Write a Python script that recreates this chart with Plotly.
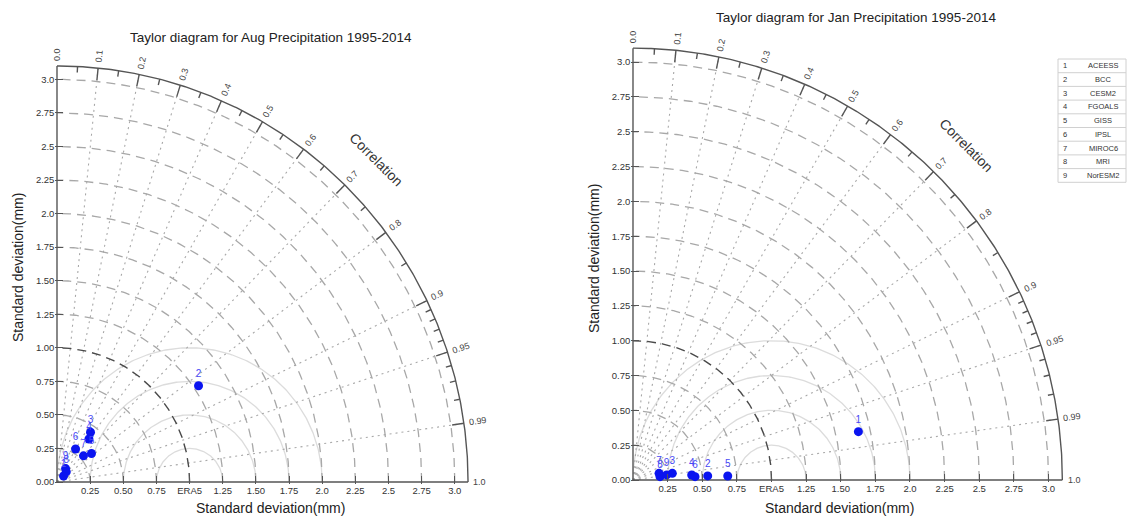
import numpy as np
import plotly.graph_objects as go

# ---------------- data ----------------
model_ids = ["1", "2", "3", "4", "5", "6", "7", "8", "9"]
model_names = ["ACEESS", "BCC", "CESM2", "FGOALS", "GISS", "IPSL", "MIROC6", "MRI", "NorESM2"]

aug_std = [0.067, 1.286, 0.449, 0.401, 0.336, 0.283, 0.279, 0.103, 0.119]
aug_corr = [0.74, 0.830, 0.563, 0.601, 0.774, 0.495, 0.716, 0.68, 0.545]

jan_std = [1.664, 0.540, 0.288, 0.4255, 0.6846, 0.4486, 0.194, 0.1965, 0.2457]
jan_corr = [0.978, 0.9985, 0.986, 0.9964, 0.9991, 0.9986, 0.969, 0.9925, 0.989]

titles = ["Taylor diagram for Aug Precipitation 1995-2014",
          "Taylor diagram for Jan Precipitation 1995-2014"]
axis_title = "Standard deviation(mm)"

y_tick_vals = [0, 0.25, 0.5, 0.75, 1.0, 1.25, 1.5, 1.75, 2.0, 2.25, 2.5, 2.75, 3.0]
y_tick_text = ["0.00", "0.25", "0.50", "0.75", "1.00", "1.25", "1.50", "1.75", "2.0", "2.25", "2.5", "2.75", "3.0"]
x_tick_vals = [0.25, 0.5, 0.75, 1.0, 1.25, 1.5, 1.75, 2.0, 2.25, 2.5, 2.75, 3.0]
x_tick_text = ["0.25", "0.50", "0.75", "ERA5", "1.25", "1.50", "1.75", "2.0", "2.25", "2.5", "2.75", "3.0"]

corr_major = [0.0, 0.1, 0.2, 0.3, 0.4, 0.5, 0.6, 0.7, 0.8, 0.9, 0.95, 0.99, 1.0]
corr_major_text = ["0.0", "0.1", "0.2", "0.3", "0.4", "0.5", "0.6", "0.7", "0.8", "0.9", "0.95", "0.99", "1.0"]
corr_minor = [0.05, 0.15, 0.25, 0.35, 0.45, 0.55, 0.65, 0.75, 0.85,
              0.91, 0.92, 0.93, 0.94, 0.96, 0.97, 0.98]
corr_grid = [0.1, 0.2, 0.3, 0.4, 0.5, 0.6, 0.7, 0.8, 0.9, 0.95, 0.99]
std_arcs = [0.25, 0.5, 0.75, 1.0, 1.25, 1.5, 1.75, 2.0, 2.25, 2.5, 2.75, 3.0]
rms_radii = [0.25, 0.5, 0.75, 1.0]
ref_std = 1.0
max_std = 3.1

# ---------------- layout geometry (pixels) ----------------
W, H = 1127, 516
FONT = "Liberation Sans, Arial, sans-serif"
panels = [
    dict(ox=57, oy=482, ux=132.6, uy=134.2, std=aug_std, corr=aug_corr, title=titles[0],
         title_xy=(271, 37), xt_xy=(270, 508), yt_xy=(18, 268), xa="x", ya="y"),
    dict(ox=633, oy=480, ux=138.5, uy=139.3, std=jan_std, corr=jan_corr, title=titles[1],
         title_xy=(856, 18), xt_xy=(839, 508), yt_xy=(594, 258), xa="x2", ya="y2"),
]
XMIN, XMAX = -0.012, 3.2

fig = go.Figure()
annotations = []
shapes = []


def arc_xy(cx, cy, r, t0, t1, n=200):
    t = np.linspace(t0, t1, n)
    return list(cx + r * np.cos(t)), list(cy + r * np.sin(t))


for i, p in enumerate(panels):
    xa, ya = p["xa"], p["ya"]
    u = 0.5 * (p["ux"] + p["uy"])

    # light grey centred-RMS arcs around the reference point
    xs, ys = [], []
    for r in rms_radii:
        ax_, ay_ = arc_xy(ref_std, 0, r, 0, np.pi)
        pts = [(a, b) for a, b in zip(ax_, ay_) if a * a + b * b <= max_std ** 2 and a >= 0]
        xs += [q[0] for q in pts] + [None]
        ys += [q[1] for q in pts] + [None]
    fig.add_trace(go.Scatter(x=xs, y=ys, mode="lines", xaxis=xa, yaxis=ya,
                             line=dict(color="#dcdcdc", width=1.3), hoverinfo="skip", showlegend=False))

    # dotted correlation rays
    xs, ys = [], []
    for c in corr_grid:
        th = np.arccos(c)
        xs += [0, max_std * np.cos(th), None]
        ys += [0, max_std * np.sin(th), None]
    fig.add_trace(go.Scatter(x=xs, y=ys, mode="lines", xaxis=xa, yaxis=ya,
                             line=dict(color="#a8a8a8", width=1.1, dash="2px,4px"),
                             hoverinfo="skip", showlegend=False))

    # dashed standard deviation arcs
    xs, ys = [], []
    for r in std_arcs:
        if r == ref_std:
            continue
        ax_, ay_ = arc_xy(0, 0, r, 0, np.pi / 2)
        xs += ax_ + [None]
        ys += ay_ + [None]
    fig.add_trace(go.Scatter(x=xs, y=ys, mode="lines", xaxis=xa, yaxis=ya,
                             line=dict(color="#a8a8a8", width=1.3, dash="9px,6px"),
                             hoverinfo="skip", showlegend=False))
    ax_, ay_ = arc_xy(0, 0, ref_std, 0, np.pi / 2)
    fig.add_trace(go.Scatter(x=ax_, y=ay_, mode="lines", xaxis=xa, yaxis=ya,
                             line=dict(color="#4a4a4a", width=1.4, dash="9px,6px"),
                             hoverinfo="skip", showlegend=False))

    # outer correlation arc, axes lines and arc ticks
    xs, ys = arc_xy(0, 0, max_std, 0, np.pi / 2, 300)
    xs += [None, 0, 0, None, 0, max_std, None]
    ys += [None, 0, max_std, None, 0, 0, None]
    for c in corr_major[1:-1]:
        th = np.arccos(c)
        L = 12 / u
        xs += [max_std * np.cos(th), (max_std - L) * np.cos(th), None]
        ys += [max_std * np.sin(th), (max_std - L) * np.sin(th), None]
    for c in corr_minor:
        th = np.arccos(c)
        L = 6 / u
        xs += [max_std * np.cos(th), (max_std - L) * np.cos(th), None]
        ys += [max_std * np.sin(th), (max_std - L) * np.sin(th), None]
    fig.add_trace(go.Scatter(x=xs, y=ys, mode="lines", xaxis=xa, yaxis=ya,
                             line=dict(color="#555555", width=1.4),
                             hoverinfo="skip", showlegend=False))

    # correlation tick labels
    for c, txt in zip(corr_major, corr_major_text):
        th = np.arccos(c)
        off = (4 + len(txt) * 2.6) / u
        r = max_std + off
        annotations.append(dict(x=r * np.cos(th), y=r * np.sin(th), xref=xa, yref=ya,
                                text=txt, showarrow=False, textangle=-np.degrees(th),
                                font=dict(family=FONT, size=9, color="#444444"),
                                xanchor="center", yanchor="middle"))
    # "Correlation" label
    th = np.radians(45)
    rr = 3.4
    annotations.append(dict(x=rr * np.cos(th), y=rr * np.sin(th), xref=xa, yref=ya,
                            text="Correlation", showarrow=False, textangle=45,
                            font=dict(family=FONT, size=14, color="#333333"),
                            xanchor="center", yanchor="middle"))

    # model points
    s = np.array(p["std"])
    c = np.array(p["corr"])
    th = np.arccos(c)
    fig.add_trace(go.Scatter(x=s * np.cos(th), y=s * np.sin(th), mode="markers+text",
                             xaxis=xa, yaxis=ya, text=model_ids, textposition="top center",
                             textfont=dict(family=FONT, size=10, color="#4848f5"),
                             marker=dict(color="#0a14f0", size=9), cliponaxis=False,
                             hoverinfo="skip", showlegend=False))

    # titles
    tx, ty = p["title_xy"]
    annotations.append(dict(x=tx / W, y=1 - ty / H, xref="paper", yref="paper", text=p["title"],
                            showarrow=False, font=dict(family=FONT, size=13.5, color="#222222"),
                            xanchor="center", yanchor="middle"))
    tx, ty = p["xt_xy"]
    annotations.append(dict(x=tx / W, y=1 - ty / H, xref="paper", yref="paper", text=axis_title,
                            showarrow=False, font=dict(family=FONT, size=14, color="#222222"),
                            xanchor="center", yanchor="middle"))
    tx, ty = p["yt_xy"]
    annotations.append(dict(x=tx / W, y=1 - ty / H, xref="paper", yref="paper", text=axis_title,
                            showarrow=False, textangle=-90,
                            font=dict(family=FONT, size=14, color="#222222"),
                            xanchor="center", yanchor="middle"))

# ---------------- axes ----------------
def axis_dom(p):
    x0 = p["ox"] + XMIN * p["ux"]
    x1 = p["ox"] + XMAX * p["ux"]
    yb = p["oy"] - XMIN * p["uy"]
    yt = p["oy"] - XMAX * p["uy"]
    return [x0 / W, x1 / W], [1 - yb / H, 1 - yt / H]


common_x = dict(range=[XMIN, XMAX], tickmode="array", tickvals=x_tick_vals, ticktext=x_tick_text,
                ticks="inside", ticklen=8, tickcolor="#555555", tickwidth=1.3, automargin=False,
                showgrid=False, zeroline=False, showline=False, fixedrange=True,
                tickfont=dict(family=FONT, size=9.5, color="#333333"))
common_y = dict(range=[XMIN, XMAX], tickmode="array", tickvals=y_tick_vals, ticktext=y_tick_text,
                ticks="inside", ticklen=8, tickcolor="#555555", tickwidth=1.3, automargin=False,
                showgrid=False, zeroline=False, showline=False, fixedrange=True,
                tickfont=dict(family=FONT, size=9.5, color="#333333"))

dx1, dy1 = axis_dom(panels[0])
dx2, dy2 = axis_dom(panels[1])

# ---------------- legend table ----------------
tbl_x0, tbl_x1 = 1058, 1126
tbl_y0, row_h = 59, 13.7
n = len(model_ids)
for k in range(n + 1):
    yy = tbl_y0 + k * row_h
    shapes.append(dict(type="line", xref="paper", yref="paper", x0=tbl_x0 / W, x1=tbl_x1 / W,
                       y0=1 - yy / H, y1=1 - yy / H, line=dict(color="#d0d0d0", width=1)))
for xx in (tbl_x0, tbl_x1):
    shapes.append(dict(type="line", xref="paper", yref="paper", x0=xx / W, x1=xx / W,
                       y0=1 - tbl_y0 / H, y1=1 - (tbl_y0 + n * row_h) / H,
                       line=dict(color="#d0d0d0", width=1)))
for k, (mid, name) in enumerate(zip(model_ids, model_names)):
    yc = tbl_y0 + (k + 0.5) * row_h
    annotations.append(dict(x=1065 / W, y=1 - yc / H, xref="paper", yref="paper", text=mid,
                            showarrow=False, font=dict(family=FONT, size=7.5, color="#333333"),
                            xanchor="center", yanchor="middle"))
    annotations.append(dict(x=1103 / W, y=1 - yc / H, xref="paper", yref="paper", text=name,
                            showarrow=False, font=dict(family=FONT, size=7.5, color="#333333"),
                            xanchor="center", yanchor="middle"))

fig.update_layout(
    width=W, height=H, margin=dict(l=0, r=0, t=0, b=0, autoexpand=False),
    paper_bgcolor="white", plot_bgcolor="white", showlegend=False,
    xaxis=dict(domain=dx1, anchor="y", **common_x),
    yaxis=dict(domain=dy1, anchor="x", **common_y),
    xaxis2=dict(domain=dx2, anchor="y2", **common_x),
    yaxis2=dict(domain=dy2, anchor="x2", **common_y),
    annotations=annotations, shapes=shapes,
)

fig.write_html("out.html", config={"displayModeBar": False},
               post_script="document.body.style.margin='0px';document.body.style.overflow='hidden';")
